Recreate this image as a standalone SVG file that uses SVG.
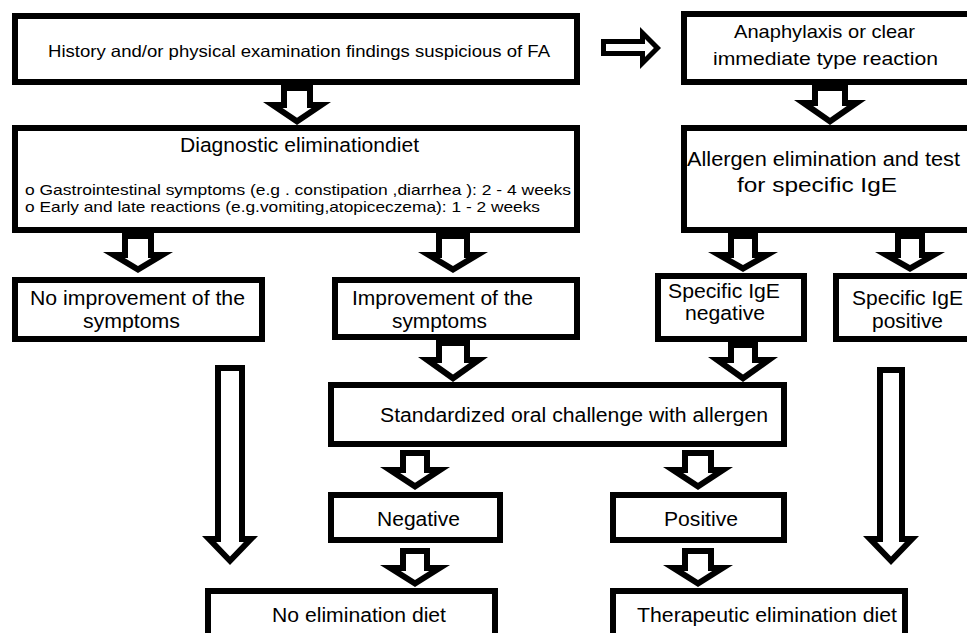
<svg xmlns="http://www.w3.org/2000/svg" width="967" height="633" viewBox="0 0 967 633">
<style>
.box{fill:#fff;stroke:#000;stroke-width:6}
.o{fill:#000}
.i{fill:#fff}
text{font-family:"Liberation Sans",Arial,Helvetica,sans-serif;fill:#000;font-size:20px}
.sm{font-size:16.5px}
.bl{font-size:15px}
</style>
<rect width="967" height="633" fill="#fff"/>
<g id="history"><rect class="box" x="15" y="16" width="562" height="66"/><text class="sm" x="48" y="57" textLength="502" lengthAdjust="spacingAndGlyphs">History and/or physical examination findings suspicious of FA</text></g>
<g id="anaphylaxis"><rect class="box" x="684" y="14" width="296" height="68"/><text x="734" y="38" textLength="181" lengthAdjust="spacingAndGlyphs" style="font-size:19px">Anaphylaxis or clear</text><text x="713" y="65" textLength="225" lengthAdjust="spacingAndGlyphs" style="font-size:19px">immediate type reaction</text></g>
<g id="diagnostic"><rect class="box" x="15" y="128" width="562" height="102"/><text x="180" y="152" textLength="239" lengthAdjust="spacingAndGlyphs" style="font-size:20.5px">Diagnostic eliminationdiet</text><text class="bl" x="25" y="195" textLength="546" lengthAdjust="spacingAndGlyphs">o Gastrointestinal symptoms (e.g . constipation  ,diarrhea ): 2 - 4 weeks</text><text class="bl" x="25" y="212" textLength="515" lengthAdjust="spacingAndGlyphs">o Early and late reactions (e.g.vomiting,atopiceczema): 1 - 2 weeks</text></g>
<g id="allergen"><rect class="box" x="684" y="128" width="296" height="102"/><text x="687" y="166" textLength="273" lengthAdjust="spacingAndGlyphs">Allergen elimination and test</text><text x="737" y="192" textLength="160" lengthAdjust="spacingAndGlyphs">for specific IgE</text></g>
<g id="noimprovement"><rect class="box" x="15" y="280" width="247" height="59"/><text x="30" y="305" textLength="215" lengthAdjust="spacingAndGlyphs">No improvement of the</text><text x="83" y="328" textLength="97" lengthAdjust="spacingAndGlyphs">symptoms</text></g>
<g id="improvement"><rect class="box" x="335" y="280" width="242" height="57"/><text x="352" y="305" textLength="181" lengthAdjust="spacingAndGlyphs">Improvement of the</text><text x="392" y="328" textLength="95" lengthAdjust="spacingAndGlyphs">symptoms</text></g>
<g id="igeneg"><rect class="box" x="658" y="276" width="146" height="63"/><text x="668" y="298" textLength="112" lengthAdjust="spacingAndGlyphs">Specific IgE</text><text x="685" y="320" textLength="80" lengthAdjust="spacingAndGlyphs">negative</text></g>
<g id="igepos"><rect class="box" x="836" y="276" width="144" height="63"/><text x="852" y="305" textLength="111" lengthAdjust="spacingAndGlyphs">Specific IgE</text><text x="872" y="328" textLength="71" lengthAdjust="spacingAndGlyphs">positive</text></g>
<g id="challenge"><rect class="box" x="331" y="385" width="453" height="59"/><text x="380" y="422" textLength="388" lengthAdjust="spacingAndGlyphs">Standardized oral challenge with allergen</text></g>
<g id="negative"><rect class="box" x="331" y="495" width="169" height="45"/><text x="377" y="526" textLength="83" lengthAdjust="spacingAndGlyphs">Negative</text></g>
<g id="positive"><rect class="box" x="613" y="495" width="171" height="45"/><text x="664" y="526" textLength="74" lengthAdjust="spacingAndGlyphs">Positive</text></g>
<g id="noelimination"><rect class="box" x="208" y="591" width="287" height="60"/><text x="272" y="622" textLength="174" lengthAdjust="spacingAndGlyphs">No elimination diet</text></g>
<g id="therapeutic"><rect class="box" x="613" y="591" width="292" height="60"/><text x="637" y="622" textLength="260" lengthAdjust="spacingAndGlyphs">Therapeutic elimination diet</text></g>
<g id="connectors">
<polygon class="o" points="601,39 640,39 640,27 661,48 640,69 640,56 601,56"/>
<polygon class="i" points="606,44 645,44 645,39.1 653.9,48 645,56.9 645,51 606,51"/>
<polygon class="o" points="281,85 313,85 313,102 331,102 297,125 263,102 281,102"/>
<polygon class="i" points="287,91 307,91 307,108 311.5,108 297,117.8 282.5,108 287,108"/>
<polygon class="o" points="812,85 848,85 848,100 866,100 830,125 794,100 812,100"/>
<polygon class="i" points="818,91 842,91 842,106 846.8,106 830,117.7 813.2,106 818,106"/>
<polygon class="o" points="122,233 154,233 154,252 173,252 138,273 103,252 122,252"/>
<polygon class="i" points="128,239 148,239 148,258 151.3,258 138,266 124.7,258 128,258"/>
<polygon class="o" points="436,233 470,233 470,252 488,252 453,273 418,252 436,252"/>
<polygon class="i" points="442,239 464,239 464,258 466.3,258 453,266 439.7,258 442,258"/>
<polygon class="o" points="728,233 758,233 758,252 778,252 743,272 708,252 728,252"/>
<polygon class="i" points="734,239 752,239 752,258 755.4,258 743,265.1 730.6,258 734,258"/>
<polygon class="o" points="895,233 925,233 925,252 945,252 910,272 875,252 895,252"/>
<polygon class="i" points="901,239 919,239 919,258 922.4,258 910,265.1 897.6,258 901,258"/>
<polygon class="o" points="436,340 470,340 470,357 488,357 453,382 418,357 436,357"/>
<polygon class="i" points="442,346 464,346 464,363 469.2,363 453,374.6 436.8,363 442,363"/>
<polygon class="o" points="728,342 758,342 758,357 778,357 743,382 708,357 728,357"/>
<polygon class="i" points="734,348 752,348 752,363 759.2,363 743,374.6 726.8,363 734,363"/>
<polygon class="o" points="400,450 430,450 430,467 450,467 415,490 380,467 400,467"/>
<polygon class="i" points="406,456 424,456 424,473 429.9,473 415,482.8 400.1,473 406,473"/>
<polygon class="o" points="682,450 714,450 714,467 733,467 698,490 663,467 682,467"/>
<polygon class="i" points="688,456 708,456 708,473 712.9,473 698,482.8 683.1,473 688,473"/>
<polygon class="o" points="400,548 430,548 430,565 450,565 415,587 380,565 400,565"/>
<polygon class="i" points="406,554 424,554 424,571 429.2,571 415,579.9 400.8,571 406,571"/>
<polygon class="o" points="682,548 714,548 714,565 733,565 698,587 663,565 682,565"/>
<polygon class="i" points="688,554 708,554 708,571 712.2,571 698,579.9 683.8,571 688,571"/>
<polygon class="o" points="215,365 245,365 245,536 258,536 230,565 202,536 215,536"/>
<polygon class="i" points="221,371 239,371 239,542 243.9,542 230,556.4 216.1,542 221,542"/>
<polygon class="o" points="877,367 905,367 905,536 919,536 891,565 863,536 877,536"/>
<polygon class="i" points="883,373 899,373 899,542 904.9,542 891,556.4 877.1,542 883,542"/>
</g>
</svg>
